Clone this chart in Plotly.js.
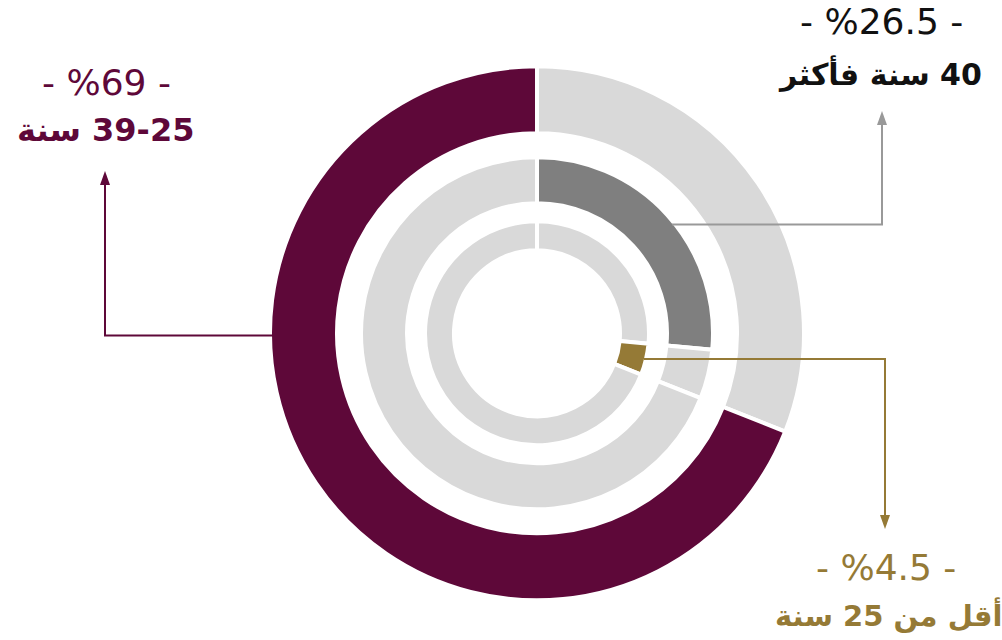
<!DOCTYPE html>
<html>
<head>
<meta charset="utf-8">
<script src="https://cdn.plot.ly/plotly-3.0.1.min.js"></script>
<style>html,body{margin:0;padding:0;background:#fff;}#chart{width:1002px;height:640px;}</style>
</head>
<body>
<div id="chart"></div>
<script>
// ---- data ----
const categories = ['40 سنة فأكثر', 'أقل من 25 سنة', '39-25 سنة'];
const shares = [26.5, 4.5, 69];
const pctLabels = ['- %26.5 -', '- %4.5 -', '- %69 -'];

// ---- styling ----
const MAROON = '#5E0839', GOLD = '#957A36', DARK = '#7F7F7F', LIGHT = '#D9D9D9', LEADER = '#999999';
const W = 1002, H = 640;
const CX = 537, CY = 333.3;
const FONT = 'DejaVu Sans, Liberation Sans, Arial, sans-serif';
const RLE = '\u202B', PDF = '\u202C';

function dom(r) {
  return { x: [(CX - r) / W, (CX + r) / W], y: [(H - CY - r) / H, (H - CY + r) / H] };
}
function ring(values, colors, rOut, rIn, names) {
  return {
    type: 'pie', values: values, labels: names, sort: false, direction: 'clockwise', rotation: 0,
    hole: rIn / rOut, domain: dom(rOut), textinfo: 'none', hoverinfo: 'label+value',
    marker: { colors: colors, line: { color: '#ffffff', width: 4 } }, showlegend: false
  };
}

const traces = [
  ring([shares[0] + shares[1], shares[2]], [LIGHT, MAROON], 267, 200, ['40+ / <25', categories[2]]),
  ring(shares, [DARK, LIGHT, LIGHT], 176, 130, categories),
  ring(shares, [LIGHT, GOLD, LIGHT], 112, 83, categories)
];

function P(x, y) { return (x / W).toFixed(5) + ',' + (1 - y / H).toFixed(5); }
function poly(pts, close) { return 'M' + pts.map(p => P(p[0], p[1])).join(' L') + (close ? ' Z' : ''); }
function leader(pts, color) {
  return { type: 'path', xref: 'paper', yref: 'paper', path: poly(pts, false), line: { color: color, width: 2 } };
}
function head(pts, color) {
  return { type: 'path', xref: 'paper', yref: 'paper', path: poly(pts, true), fillcolor: color, line: { color: color, width: 0 } };
}

const shapes = [
  leader([[672, 224.6], [882, 224.6], [882, 124]], LEADER),
  head([[882, 111], [877, 125], [887, 125]], LEADER),
  leader([[644, 359], [885, 359], [885, 516]], GOLD),
  head([[885, 529], [880, 515], [890, 515]], GOLD),
  leader([[274, 335.5], [105, 335.5], [105, 185]], MAROON),
  head([[105, 171], [100, 185], [110, 185]], MAROON)
];

function ann(x, y, text, color, size, bold) {
  return {
    xref: 'paper', yref: 'paper', x: x / W, y: 1 - y / H, xanchor: 'center', yanchor: 'middle',
    text: bold ? '<b>' + text + '</b>' : text, showarrow: false,
    font: { family: FONT, size: size, color: color }
  };
}
const annotations = [
  ann(881, 21, pctLabels[0], '#111111', 36, false),
  ann(880, 74, RLE + categories[0] + PDF, '#111111', 30, true),
  ann(886, 567, pctLabels[1], GOLD, 36, false),
  ann(888, 615, RLE + categories[1] + PDF, GOLD, 29, true),
  ann(106, 82, pctLabels[2], MAROON, 36, false),
  ann(105, 130, RLE + categories[2] + PDF, MAROON, 32, true)
];

Plotly.newPlot('chart', traces, {
  width: W, height: H, margin: { l: 0, r: 0, t: 0, b: 0 },
  paper_bgcolor: '#ffffff', plot_bgcolor: '#ffffff',
  shapes: shapes, annotations: annotations, showlegend: false
}, { displayModeBar: false, staticPlot: true });
</script>
</body>
</html>
